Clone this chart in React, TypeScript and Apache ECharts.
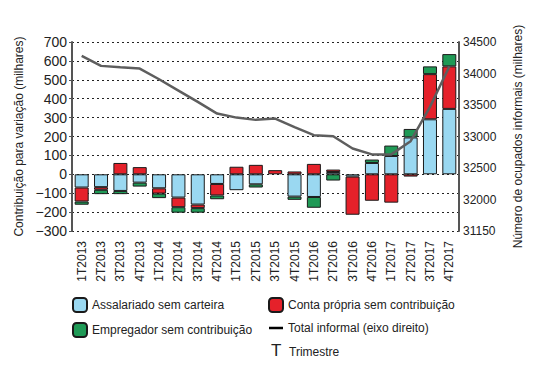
import React, { useEffect, useRef } from "react";
import * as echarts from "echarts";

const categories = [
  "1T2013", "2T2013", "3T2013", "4T2013",
  "1T2014", "2T2014", "3T2014", "4T2014",
  "1T2015", "2T2015", "3T2015", "4T2015",
  "1T2016", "2T2016", "3T2016", "4T2016",
  "1T2017", "2T2017", "3T2017", "4T2017",
];

const assalariado = [-70, -68, -88, -44, -74, -123, -160, -51, -84, -53, null, -118, -120, 12, -12, 60, 97, 195, 291, 346];
const contaPropria = [-74, -14, 60, 38, -28, -51, -19, -61, 40, 50, 22, 15, 55, 13, -202, -140, -150, -12, 239, 225];
const empregador = [-17, -23, -17, -21, -24, -29, -24, -20, null, -17, null, -17, -57, -33, null, 18, 55, 45, 41, 65];
const totalInformal = [34279, 34121, 34099, 34078, 33909, 33729, 33549, 33364, 33300, 33264, 33285, 33150, 33021, 33004, 32810, 32716, 32716, 32925, 33470, 34110];

const leftTicks = { min: -300, max: 700, interval: 100 };
const rightTicks = { min: 31500, max: 34500, interval: 500 };
const rightMinLabel = "31150";

const FONT = "'Liberation Sans', Arial, Helvetica, sans-serif";

export default function App() {
  const ref = useRef<HTMLDivElement>(null);

  useEffect(() => {
    if (!ref.current) return;
    const chart = echarts.init(ref.current, null, { renderer: "svg" });
    const border = { borderColor: "#1a1a1a", borderWidth: 1 };
    const option: any = {
      animation: false,
      textStyle: { fontFamily: FONT, color: "#222" },
      grid: { left: 72, right: 74, top: 42, bottom: 138, containLabel: false },
      legend: [
        {
          orient: "vertical",
          left: 72,
          top: 297,
          padding: 0,
          itemWidth: 14,
          itemHeight: 14,
          itemGap: 9,
          textStyle: { fontSize: 12, color: "#222", fontFamily: FONT },
          data: ["Assalariado sem carteira", "Empregador sem contribuição"],
        },
        {
          orient: "vertical",
          left: 268,
          top: 297,
          padding: 0,
          itemWidth: 14,
          itemHeight: 14,
          itemGap: 9,
          textStyle: { fontSize: 12, color: "#222", fontFamily: FONT },
          data: [
            "Conta própria sem contribuição",
            {
              name: "Total informal (eixo direito)",
              icon: "path://M0,0 L14,0 L14,2.5 L0,2.5 Z",
              itemStyle: { color: "#000", borderWidth: 0 },
            },
          ],
        },
      ],
      xAxis: {
        type: "category",
        data: categories,
        axisLine: { show: false },
        axisTick: { show: false },
        axisLabel: { rotate: 90, margin: 10, fontSize: 12, color: "#222", fontFamily: FONT },
      },
      yAxis: [
        {
          type: "value",
          min: leftTicks.min,
          max: leftTicks.max,
          interval: leftTicks.interval,
          name: "Contribuição para variação (milhares)",
          nameLocation: "middle",
          nameGap: 47,
          nameTextStyle: { fontSize: 12, color: "#222", fontFamily: FONT },
          axisLine: { show: true, lineStyle: { color: "#555", width: 2 } },
          axisTick: { show: true, length: 3, lineStyle: { color: "#555" } },
          axisLabel: {
            fontSize: 14,
            margin: 5,
            color: "#222",
            fontFamily: FONT,
            formatter: (v: number) => String(v).replace("-", "\u2212"),
          },
          splitLine: { show: true, lineStyle: { type: [2, 3], color: "#222", width: 1 } },
        },
        {
          type: "value",
          min: rightTicks.min,
          max: rightTicks.max,
          interval: rightTicks.interval,
          position: "right",
          name: "Número de ocupados informais (milhares)",
          nameLocation: "middle",
          nameGap: 53,
          nameTextStyle: { fontSize: 12, color: "#222", fontFamily: FONT },
          axisLine: { show: true, lineStyle: { color: "#555", width: 2 } },
          axisTick: { show: false },
          axisLabel: {
            fontSize: 12,
            margin: 4,
            color: "#222",
            fontFamily: FONT,
            formatter: (v: number) => (v === rightTicks.min ? rightMinLabel : String(v)),
          },
          splitLine: { show: false },
        },
      ],
      series: [
        {
          name: "Assalariado sem carteira",
          type: "bar",
          stack: "c",
          barWidth: 14,
          itemStyle: { color: "#9ad8f1", ...border },
          data: assalariado,
        },
        {
          name: "Conta própria sem contribuição",
          type: "bar",
          stack: "c",
          barWidth: 14,
          itemStyle: { color: "#e5212a", ...border },
          data: contaPropria,
        },
        {
          name: "Empregador sem contribuição",
          type: "bar",
          stack: "c",
          barWidth: 14,
          itemStyle: { color: "#1f9a56", ...border },
          data: empregador,
        },
        {
          name: "Total informal (eixo direito)",
          type: "line",
          yAxisIndex: 1,
          showSymbol: false,
          symbol: "none",
          z: 5,
          lineStyle: { color: "#5e5e5e", width: 2.5 },
          itemStyle: { color: "#000" },
          data: totalInformal,
        },
      ],
      graphic: [
        {
          type: "text",
          left: 271,
          top: 342,
          style: { text: "T", fontSize: 17, fill: "#222", fontFamily: FONT },
        },
        {
          type: "text",
          left: 289,
          top: 346,
          style: { text: "Trimestre", fontSize: 12, fill: "#222", fontFamily: FONT },
        },
      ],
    };
    chart.setOption(option);
    return () => chart.dispose();
  }, []);

  return (
    <div
      ref={ref}
      style={{ position: "fixed", left: 0, top: 0, width: 533, height: 369, background: "#fff" }}
    />
  );
}
